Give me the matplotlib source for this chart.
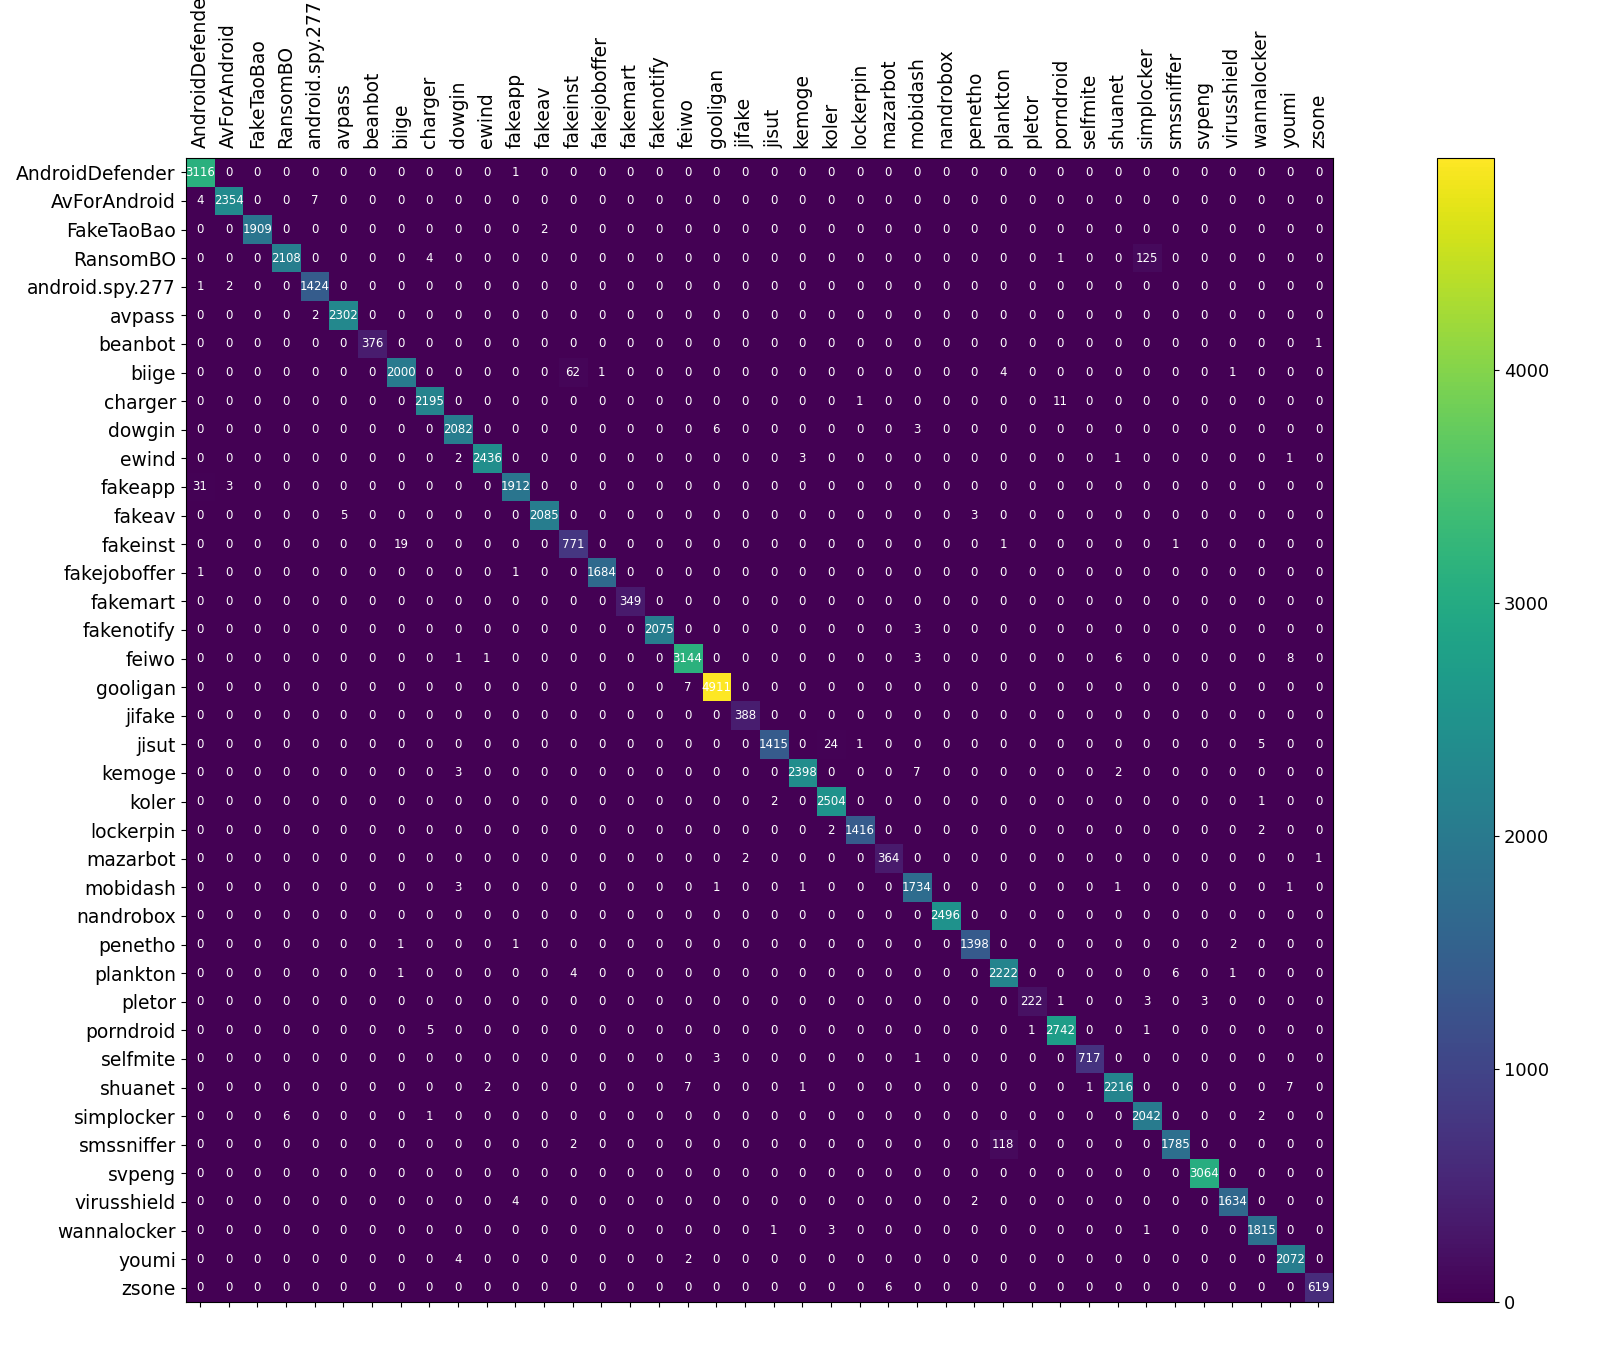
import numpy as np
import matplotlib
matplotlib.use("Agg")
import matplotlib.pyplot as plt

labels = ["AndroidDefender", "AvForAndroid", "FakeTaoBao", "RansomBO", "android.spy.277",
          "avpass", "beanbot", "biige", "charger", "dowgin", "ewind", "fakeapp", "fakeav",
          "fakeinst", "fakejoboffer", "fakemart", "fakenotify", "feiwo", "gooligan", "jifake",
          "jisut", "kemoge", "koler", "lockerpin", "mazarbot", "mobidash", "nandrobox",
          "penetho", "plankton", "pletor", "porndroid", "selfmite", "shuanet", "simplocker",
          "smssniffer", "svpeng", "virusshield", "wannalocker", "youmi", "zsone"]

diag = [3116, 2354, 1909, 2108, 1424, 2302, 376, 2000, 2195, 2082, 2436, 1912, 2085, 771,
        1684, 349, 2075, 3144, 4911, 388, 1415, 2398, 2504, 1416, 364, 1734, 2496, 1398,
        2222, 222, 2742, 717, 2216, 2042, 1785, 3064, 1634, 1815, 2072, 619]

# (row, col, count) off-diagonal entries
off_diag = [
    (0, 11, 1), (1, 0, 4), (1, 4, 7), (2, 12, 2), (3, 8, 4), (3, 30, 1), (3, 33, 125),
    (4, 0, 1), (4, 1, 2), (5, 4, 2), (6, 39, 1),
    (7, 13, 62), (7, 14, 1), (7, 28, 4), (7, 36, 1),
    (8, 23, 1), (8, 30, 11), (9, 18, 6), (9, 25, 3),
    (10, 9, 2), (10, 21, 3), (10, 32, 1), (10, 38, 1),
    (11, 0, 31), (11, 1, 3), (12, 5, 5), (12, 27, 3),
    (13, 7, 19), (13, 28, 1), (13, 34, 1), (14, 0, 1), (14, 11, 1),
    (16, 25, 3), (17, 9, 1), (17, 10, 1), (17, 25, 3), (17, 32, 6), (17, 38, 8),
    (18, 17, 7), (20, 22, 24), (20, 23, 1), (20, 37, 5),
    (21, 9, 3), (21, 25, 7), (21, 32, 2), (22, 20, 2), (22, 37, 1),
    (23, 22, 2), (23, 37, 2), (24, 19, 2), (24, 39, 1),
    (25, 9, 3), (25, 18, 1), (25, 21, 1), (25, 32, 1), (25, 38, 1),
    (27, 7, 1), (27, 11, 1), (27, 36, 2),
    (28, 7, 1), (28, 13, 4), (28, 34, 6), (28, 36, 1),
    (29, 30, 1), (29, 33, 3), (29, 35, 3),
    (30, 8, 5), (30, 29, 1), (30, 33, 1), (31, 18, 3), (31, 25, 1),
    (32, 10, 2), (32, 17, 7), (32, 21, 1), (32, 31, 1), (32, 38, 7),
    (33, 3, 6), (33, 8, 1), (33, 37, 2), (34, 13, 2), (34, 28, 118),
    (36, 11, 4), (36, 27, 2), (37, 20, 1), (37, 22, 3), (37, 33, 1),
    (38, 9, 4), (38, 17, 2), (39, 24, 6),
]

n = len(labels)
cm = np.zeros((n, n), dtype=int)
for i, v in enumerate(diag):
    cm[i, i] = v
for r, c, v in off_diag:
    cm[r, c] = v

fig = plt.figure(figsize=(16, 13.57), dpi=100)
ax = fig.add_axes([0.116, 0.0405, 0.717, 0.843])
cax = fig.add_axes([0.898, 0.0405, 0.036, 0.843])

im = ax.imshow(cm, cmap="viridis", aspect="auto")
fig.colorbar(im, cax=cax)
cax.tick_params(labelsize=13)

ax.set_xticks(range(n))
ax.set_yticks(range(n))
ax.set_xticklabels(labels, rotation=90, fontsize=13.5)
ax.set_yticklabels(labels, fontsize=13.5)
ax.tick_params(axis="x", bottom=True, top=False, labelbottom=False, labeltop=True)

for i in range(n):
    for j in range(n):
        ax.text(j, i, str(cm[i, j]), ha="center", va="center", color="white", fontsize=8.5)

fig.savefig("out.png")
